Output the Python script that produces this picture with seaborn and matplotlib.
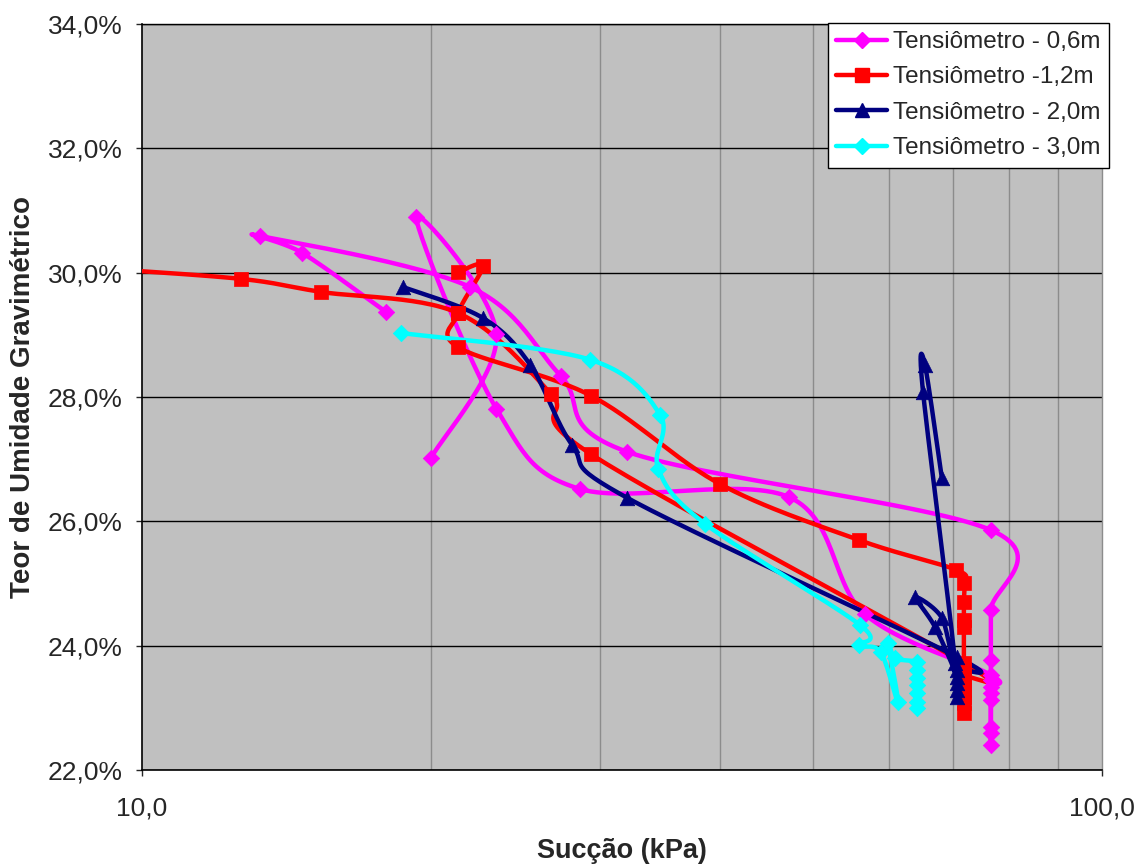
import numpy as np
import matplotlib
matplotlib.use("Agg")
import matplotlib.pyplot as plt
from matplotlib.lines import Line2D
from matplotlib.ticker import FixedLocator, FuncFormatter, NullFormatter
import seaborn as sns

sns.set_style("white")
plt.rcParams['font.family'] = ['Liberation Sans', 'DejaVu Sans']

# ---------------- data ----------------
labels = ["Tensiômetro - 0,6m", "Tensiômetro -1,2m", "Tensiômetro - 2,0m", "Tensiômetro - 3,0m"]

pink_x = [17.95, 14.68, 13.27, 21.96, 27.3, 32.0, 76.6, 76.6, 76.6, 76.6, 76.6, 76.6,
          76.6, 76.6, 76.6, 76.6, 76.6, 56.6, 47.2, 28.6, 23.4, 19.29, 23.4, 20.0]
pink_y = [29.37, 30.32, 30.59, 29.77, 28.34, 27.12, 25.86, 24.57, 23.77, 23.45, 23.24, 22.69,
          22.40, 22.60, 23.13, 23.34, 23.53, 24.51, 26.39, 26.52, 27.81, 30.90, 29.01, 27.02]

red_x = [21.35, 22.66, 21.35, 21.35, 29.36, 40.0, 55.8, 70.5, 71.8, 71.8, 71.8, 71.8, 71.8,
         71.8, 71.8, 71.8, 71.8, 71.8, 71.8, 71.8, 29.36, 26.67, 21.35, 15.37, 12.68, 9.0]
red_y = [30.01, 30.11, 29.35, 28.80, 28.02, 26.60, 25.70, 25.22, 25.01, 24.70, 24.41, 24.30, 23.61,
         23.40, 23.18, 22.91, 23.07, 23.29, 23.50, 23.72, 27.08, 28.05, 29.35, 29.69, 29.90, 30.07]

navy_x = [18.7, 22.66, 25.37, 28.05, 32.0, 70.6, 70.6, 70.6, 70.6, 70.6, 70.6, 67.0,
          63.9, 68.1, 70.3, 65.1, 65.4, 68.1]
navy_y = [29.77, 29.27, 28.52, 27.23, 26.38, 23.82, 23.61, 23.40, 23.18, 23.29, 23.50, 24.30,
          24.78, 24.45, 23.72, 28.08, 28.52, 26.70]

cyan_x = [18.62, 29.3, 34.65, 34.5, 38.6, 56.0, 55.8, 58.8, 61.3, 59.9, 60.9, 64.2,
          64.2, 64.2, 64.2, 64.2, 64.2, 64.2]
cyan_y = [29.03, 28.60, 27.71, 26.84, 25.96, 24.33, 24.01, 23.90, 23.09, 24.04, 23.80, 23.74,
          23.61, 23.48, 23.37, 23.24, 23.10, 23.00]

y_ticks = [22, 24, 26, 28, 30, 32, 34]
x_ticks = [10, 100]

series = [
    (pink_x, pink_y, "#FF00FF", "D", 70),
    (red_x, red_y, "#FF0000", "s", 95),
    (navy_x, navy_y, "#000080", "^", 110),
    (cyan_x, cyan_y, "#00FFFF", "D", 70),
]


def smooth(xs, ys, n=30):
    """Excel-like smoothed line (Catmull-Rom Bezier) in screen-like space."""
    u = np.log10(np.asarray(xs, float)) * 960.0
    v = np.asarray(ys, float) * 62.17
    P = np.column_stack([u, v])
    m = len(P)
    t = np.linspace(0, 1, n)[:, None]
    out = []
    for i in range(m - 1):
        p0 = P[i - 1] if i > 0 else P[i]
        p1, p2 = P[i], P[i + 1]
        p3 = P[i + 2] if i + 2 < m else P[i + 1]
        c1 = p1 + (p2 - p0) / 6.0
        c2 = p2 - (p3 - p1) / 6.0
        seg = (1 - t) ** 3 * p1 + 3 * (1 - t) ** 2 * t * c1 + 3 * (1 - t) * t ** 2 * c2 + t ** 3 * p2
        out.append(seg if i == 0 else seg[1:])
    C = np.vstack(out)
    return 10 ** (C[:, 0] / 960.0), C[:, 1] / 62.17


fig = plt.figure(figsize=(11.41, 8.64), dpi=100)
fig.patch.set_facecolor("white")
ax = fig.add_axes([142 / 1141, (864 - 770) / 864, 960 / 1141, 746 / 864])
ax.set_facecolor("#C0C0C0")
ax.set_xscale("log")
ax.set_xlim(10, 100)
ax.set_ylim(22, 34)

# grid
ax.xaxis.set_major_locator(FixedLocator(x_ticks))
ax.xaxis.set_minor_locator(FixedLocator([20, 30, 40, 50, 60, 70, 80, 90]))
ax.yaxis.set_major_locator(FixedLocator(y_ticks))
ax.grid(which="minor", axis="x", color="#8C8C8C", linewidth=1.0)
ax.grid(which="major", axis="y", color="black", linewidth=1.0)
ax.set_axisbelow(True)

handles = []
for (xs, ys, col, mk, s), lab in zip(series, labels):
    sx, sy = smooth(xs, ys)
    sns.lineplot(x=sx, y=sy, sort=False, estimator=None, color=col, linewidth=3.2, ax=ax,
                 legend=False, zorder=3)
    sns.scatterplot(x=xs, y=ys, marker=mk, s=s, color=col, edgecolor=col, linewidth=0.5,
                    ax=ax, legend=False, zorder=4)
    handles.append(Line2D([0], [0], color=col, lw=3.2, marker=mk,
                          markersize=np.sqrt(s), markeredgecolor=col, label=lab))

ax.set_xlim(10, 100)
ax.set_ylim(22, 34)

# ticks and labels
ax.xaxis.set_major_formatter(FuncFormatter(lambda v, p: f"{v:.1f}".replace(".", ",")))
ax.xaxis.set_minor_formatter(NullFormatter())
ax.yaxis.set_major_formatter(FuncFormatter(lambda v, p: f"{v:.1f}%".replace(".", ",")))
ax.tick_params(axis="x", which="major", length=4, width=1, pad=15, labelsize=19, direction="out")
ax.tick_params(axis="x", which="minor", length=0)
ax.tick_params(axis="y", which="major", length=4, width=1, pad=10, labelsize=19, direction="out")
ax.tick_params(left=True, bottom=True)

for side in ["left", "bottom"]:
    ax.spines[side].set_color("black")
    ax.spines[side].set_linewidth(1.2)
ax.spines["top"].set_color("black")
ax.spines["top"].set_linewidth(1.0)
ax.spines["right"].set_color("#8C8C8C")
ax.spines["right"].set_linewidth(1.0)

ax.set_xlabel("Sucção (kPa)", fontsize=19.5, fontweight="bold", labelpad=13)
ax.set_ylabel("Teor de Umidade Gravimétrico", fontsize=20, fontweight="bold", labelpad=8)

leg = ax.legend(handles=handles, loc="upper right", bbox_to_anchor=(1.0075, 1.002),
                fontsize=17.5, frameon=True, fancybox=False, edgecolor="black",
                framealpha=1.0, handlelength=2.1, handletextpad=0.25, labelspacing=0.55,
                borderpad=0.35, borderaxespad=0)
leg.get_frame().set_linewidth(1.0)
leg.set_zorder(10)

fig.savefig("out.png", dpi=100, facecolor="white")
